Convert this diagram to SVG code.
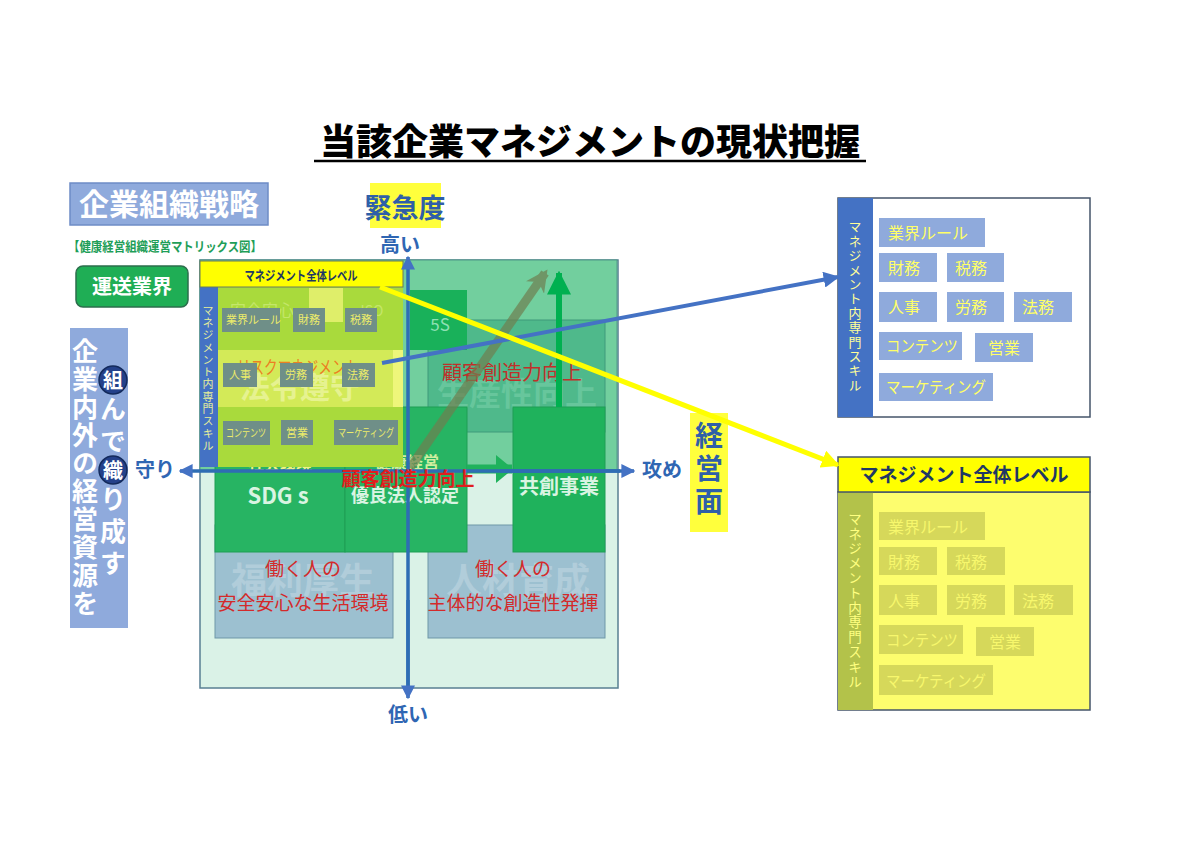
<svg xmlns="http://www.w3.org/2000/svg" width="1200" height="849" viewBox="0 0 1200 849">
<defs>
<style>
text { font-family: "Noto Sans CJK JP", "Noto Sans", sans-serif; }
.b { font-weight: 700; }
.vt { writing-mode: vertical-rl; }
.mid { text-anchor: middle; }
.ax { fill: #2f66b3; font-weight: 700; font-size: 20px; text-anchor: middle; }
.sk1 { fill: #8faadc; }
.skt1 { fill: #ffff66; font-size: 16px; }
.sk2 { fill: #d6d85a; }
.skt2 { fill: #f7f76c; font-size: 16px; }
.sk0 { fill: #6f8f88; }
.skt0 { fill: #ecec6a; font-size: 11px; }
.red { fill: #d42a2a; font-size: 19px; text-anchor: middle; }
.pale { fill: #d9f4e2; font-weight: 700; text-anchor: middle; }
</style>
<marker id="mBlue" viewBox="0 0 10 10" refX="9" refY="5" markerWidth="16" markerHeight="16" markerUnits="userSpaceOnUse" orient="auto"><path d="M0,0 L10,5 L0,10 z" fill="#4472c4"/></marker>
<marker id="mYel" viewBox="0 0 10 10" refX="9" refY="5" markerWidth="18" markerHeight="18" markerUnits="userSpaceOnUse" orient="auto"><path d="M0,0 L10,5 L0,10 z" fill="#ffff00"/></marker>
<marker id="mAx" viewBox="0 0 10 10" refX="9" refY="5" markerWidth="14" markerHeight="14" markerUnits="userSpaceOnUse" orient="auto"><path d="M0,0 L10,5 L0,10 z" fill="#4472c4"/></marker>
<marker id="mOl" viewBox="0 0 10 10" refX="8" refY="5" markerWidth="22" markerHeight="22" markerUnits="userSpaceOnUse" orient="auto"><path d="M0,0 L10,5 L0,10 L3,5 z" fill="#6f7f50"/></marker>
<marker id="mGr" viewBox="0 0 10 10" refX="9" refY="5" markerWidth="24" markerHeight="24" markerUnits="userSpaceOnUse" orient="auto"><path d="M0,0 L10,5 L0,10 z" fill="#00b050"/></marker>
</defs>
<rect width="1200" height="849" fill="#ffffff"/>

<g id="title">
<text x="590" y="155" class="mid" font-size="36" font-weight="900" fill="#000">当該企業マネジメントの現状把握</text>
<line x1="314" y1="161" x2="866" y2="161" stroke="#000" stroke-width="2.5"/>
</g>

<g id="strategy">
<rect x="70" y="183" width="198" height="42" fill="#8faadc" stroke="#6e8cc6" stroke-width="1.5"/>
<text x="169" y="215" class="mid b" font-size="30" fill="#ffffff">企業組織戦略</text>
</g>
<g id="matrix-caption">
<text x="68" y="251" font-size="13" class="b" fill="#1e9e58" textLength="194" lengthAdjust="spacingAndGlyphs">【健康経営組織運営マトリックス図】</text>
</g>
<g id="industry">
<rect x="76" y="266" width="112" height="41" rx="7" fill="#1fae55" stroke="#2c6e4c" stroke-width="1.5"/>
<text x="132" y="294" class="mid b" font-size="20" fill="#ffffff">運送業界</text>
</g>
<g id="resources">
<rect x="70" y="328" width="58" height="300" fill="#8faadc"/>
<circle cx="113" cy="380" r="14" fill="#24418a" stroke="#132a5c" stroke-width="1.5"/>
<circle cx="113" cy="470" r="14" fill="#24418a" stroke="#132a5c" stroke-width="1.5"/>
<text x="85" y="338" class="vt b" font-size="26" letter-spacing="2" fill="#ffffff">企業内外の経営資源を</text>
<text x="113" y="370" class="vt b" font-size="26" letter-spacing="6" fill="#ffffff"><tspan font-size="20">組</tspan>んで<tspan font-size="20">織</tspan>り成す</text>
</g>

<g id="urgency">
<rect x="370" y="183" width="71" height="45" fill="#ffff3c"/>
<text x="405" y="218" class="mid b" font-size="27" fill="#2f5fa8">緊急度</text>
<text x="400" y="252" class="ax">高い</text>
<text x="408" y="722" class="ax">低い</text>
<text x="155" y="477" class="ax">守り</text>
<text x="662" y="477" class="ax">攻め</text>
</g>
<g id="management-face">
<rect x="690" y="413" width="38" height="119" fill="#ffff3c"/>
<text x="709" y="421" class="vt b" font-size="28" letter-spacing="5" fill="#2f5fa8">経営面</text>
</g>

<g id="matrix">
<rect x="200" y="260" width="418" height="428" fill="#daf2e7" stroke="#587f92" stroke-width="1.5"/>
<rect x="200" y="260" width="417" height="210" fill="#72cf9e" stroke="#4f9a88" stroke-width="1"/>
<rect x="428" y="320" width="177" height="112" fill="#4fb98b" stroke="#3f9a7a" stroke-width="1"/>
<text x="517" y="405" class="mid b" font-size="32" fill="#67c69c">生産性向上</text>
<rect x="410" y="290" width="57" height="60" fill="#19b15a"/>
<text x="440" y="331" class="mid" font-size="17" fill="#8fe0b3">5S</text>
<rect x="215" y="525" width="178" height="113" fill="#9cc0d0" stroke="#6f97a8" stroke-width="1"/>
<rect x="428" y="525" width="177" height="113" fill="#9cc0d0" stroke="#6f97a8" stroke-width="1"/>
<text x="303" y="594" class="mid b" font-size="36" fill="#ffffff" fill-opacity="0.22">福利厚生</text>
<text x="518" y="594" class="mid b" font-size="36" fill="#ffffff" fill-opacity="0.22">人材育成</text>
<rect x="215" y="440" width="130" height="112" fill="#27b463" stroke="#1f9e55" stroke-width="1"/>
<rect x="345" y="407" width="122" height="145" fill="#27b463" stroke="#1f9e55" stroke-width="1"/>
<rect x="513" y="407" width="92" height="145" fill="#1fb25c" stroke="#1f9e55" stroke-width="1"/>
<text x="278" y="504" class="pale" font-size="22">SDG s</text>
<text x="405" y="502" class="pale" font-size="18">優良法人認定</text>
<text x="559" y="494" class="pale" font-size="20">共創事業</text>
<text x="280" y="470" class="mid b" font-size="16" fill="#eef08a">社会環境</text>
<text x="407" y="468" class="mid b" font-size="16" fill="#cfeea0">健康経営</text>
<text x="512" y="380" class="mid" font-size="20" fill="#c0302a">顧客創造力向上</text>
<text x="303" y="576" class="red">働く人の</text>
<text x="303" y="610" class="red">安全安心な生活環境</text>
<text x="513" y="576" class="red">働く人の</text>
<text x="513" y="610" class="red">主体的な創造性発揮</text>
</g>

<g id="overall-level-overlay">
<rect x="218" y="287" width="185" height="180" fill="#a9da3c"/>
<rect x="309" y="288" width="34" height="34" fill="#dfee6a"/>
<rect x="218" y="350" width="175" height="57" fill="#d3ea58"/>
<rect x="393" y="350" width="10" height="57" fill="#eef67a"/>
<text x="262" y="316" class="mid" font-size="16" fill="#c4e66a">安全安心</text>
<text x="372" y="316" class="mid" font-size="14" fill="#c4e66a">ISO</text>
<text x="300" y="398" class="mid b" font-size="30" fill="#e6f290">法令遵守</text>
<text x="298" y="374" class="mid" font-size="18" fill="#ec7f22" textLength="122" lengthAdjust="spacingAndGlyphs">リスクマネジメント</text>
<rect x="222" y="308" width="58" height="24" class="sk0"/>
<rect x="293" y="308" width="32" height="24" class="sk0"/>
<rect x="345" y="308" width="32" height="24" class="sk0"/>
<rect x="223" y="363" width="34" height="24" class="sk0"/>
<rect x="280" y="363" width="33" height="24" class="sk0"/>
<rect x="342" y="363" width="33" height="24" class="sk0"/>
<rect x="223" y="421" width="47" height="24" class="sk0"/>
<rect x="281" y="420" width="32" height="25" class="sk0"/>
<rect x="334" y="420" width="64" height="25" class="sk0"/>
<text x="226" y="324" class="skt0">業界ルール</text>
<text x="298" y="324" class="skt0">財務</text>
<text x="350" y="324" class="skt0">税務</text>
<text x="229" y="379" class="skt0">人事</text>
<text x="285" y="379" class="skt0">労務</text>
<text x="347" y="379" class="skt0">法務</text>
<text x="226" y="437" class="skt0" textLength="40" lengthAdjust="spacingAndGlyphs">コンテンツ</text>
<text x="286" y="437" class="skt0">営業</text>
<text x="338" y="437" class="skt0" textLength="56" lengthAdjust="spacingAndGlyphs">マーケティング</text>
<rect x="200" y="287" width="18" height="180" fill="#4472c4"/>
<text x="208" y="305" class="vt" font-size="11" letter-spacing="1.3" fill="#e6ee9a">マネジメント内専門スキル</text>
<rect x="200" y="261" width="203" height="26" fill="#ffff00" stroke="#6a7a5a" stroke-width="1"/>
<text x="301" y="280" class="mid b" font-size="13" fill="#1f3864" textLength="113" lengthAdjust="spacingAndGlyphs">マネジメント全体レベル</text>
</g>

<g id="skills-box">
<rect x="838" y="198" width="252" height="219" fill="#ffffff" stroke="#44546a" stroke-width="1.5"/>
<rect x="838" y="198" width="35" height="219" fill="#4472c4"/>
<text x="855" y="220" class="vt" font-size="13" letter-spacing="1.4" fill="#ffff99">マネジメント内専門スキル</text>
<rect x="879" y="218" width="106" height="29" class="sk1"/>
<rect x="879" y="253" width="58" height="29" class="sk1"/>
<rect x="947" y="253" width="57" height="29" class="sk1"/>
<rect x="879" y="292" width="58" height="30" class="sk1"/>
<rect x="947" y="292" width="57" height="30" class="sk1"/>
<rect x="1014" y="292" width="58" height="30" class="sk1"/>
<rect x="879" y="332" width="83" height="28" class="sk1"/>
<rect x="975" y="333" width="58" height="29" class="sk1"/>
<rect x="879" y="373" width="114" height="28" class="sk1"/>
<text x="888" y="239" class="skt1">業界ルール</text>
<text x="888" y="274" class="skt1">財務</text>
<text x="955" y="274" class="skt1">税務</text>
<text x="888" y="313" class="skt1">人事</text>
<text x="955" y="313" class="skt1">労務</text>
<text x="1022" y="313" class="skt1">法務</text>
<text x="886" y="352" class="skt1" textLength="72" lengthAdjust="spacingAndGlyphs">コンテンツ</text>
<text x="988" y="354" class="skt1">営業</text>
<text x="886" y="393" class="skt1" textLength="100" lengthAdjust="spacingAndGlyphs">マーケティング</text>
</g>

<g id="overall-level-box">
<rect x="838" y="492" width="252" height="218" fill="#fdfd6e" stroke="#44546a" stroke-width="1.5"/>
<rect x="838" y="492" width="35" height="218" fill="#b3c24a"/>
<text x="855" y="512" class="vt" font-size="13.5" letter-spacing="1.3" fill="#ffff80">マネジメント内専門スキル</text>
<rect x="879" y="512" width="106" height="28" class="sk2"/>
<rect x="879" y="547" width="58" height="28" class="sk2"/>
<rect x="947" y="547" width="58" height="28" class="sk2"/>
<rect x="879" y="585" width="58" height="30" class="sk2"/>
<rect x="947" y="585" width="58" height="30" class="sk2"/>
<rect x="1014" y="585" width="59" height="30" class="sk2"/>
<rect x="879" y="625" width="84" height="29" class="sk2"/>
<rect x="976" y="627" width="58" height="29" class="sk2"/>
<rect x="879" y="665" width="114" height="30" class="sk2"/>
<text x="888" y="533" class="skt2">業界ルール</text>
<text x="888" y="568" class="skt2">財務</text>
<text x="955" y="568" class="skt2">税務</text>
<text x="888" y="607" class="skt2">人事</text>
<text x="955" y="607" class="skt2">労務</text>
<text x="1022" y="607" class="skt2">法務</text>
<text x="886" y="646" class="skt2" textLength="72" lengthAdjust="spacingAndGlyphs">コンテンツ</text>
<text x="989" y="648" class="skt2">営業</text>
<text x="886" y="687" class="skt2" textLength="100" lengthAdjust="spacingAndGlyphs">マーケティング</text>
<rect x="838" y="457" width="252" height="35" fill="#ffff00" stroke="#44546a" stroke-width="1.5"/>
<text x="964" y="482" class="mid b" font-size="19" fill="#1f3864">マネジメント全体レベル</text>
</g>

<g id="connectors">
<g opacity="0.7"><line x1="410" y1="468" x2="545" y2="273" stroke="#6f7f50" stroke-width="9" marker-end="url(#mOl)"/></g>
<line x1="559" y1="407" x2="559" y2="273" stroke="#00b050" stroke-width="6" marker-end="url(#mGr)"/>
<line x1="467" y1="469" x2="512" y2="469" stroke="#1fb25c" stroke-width="9"/>
<path d="M496,455 L513,469 L496,483 z" fill="#1fb25c"/>
<line x1="408" y1="688" x2="408" y2="257" stroke="#2e6db4" stroke-width="3.5" marker-end="url(#mAx)"/>
<line x1="408" y1="600" x2="408" y2="698" stroke="#2e6db4" stroke-width="3.5" marker-end="url(#mAx)"/>
<line x1="620" y1="471" x2="180" y2="471" stroke="#2e6db4" stroke-width="3.5" marker-end="url(#mAx)"/>
<line x1="500" y1="471" x2="634" y2="471" stroke="#2e6db4" stroke-width="3.5" marker-end="url(#mAx)"/>
<line x1="382" y1="363" x2="838" y2="277" stroke="#4472c4" stroke-width="4" marker-end="url(#mBlue)"/>
<line x1="380" y1="287" x2="838" y2="465" stroke="#ffff00" stroke-width="5" marker-end="url(#mYel)"/>
</g>

<g id="center-label">
<text x="408" y="486" class="mid b" font-size="19" fill="#e01e1e">顧客創造力向上</text>
</g>
</svg>
